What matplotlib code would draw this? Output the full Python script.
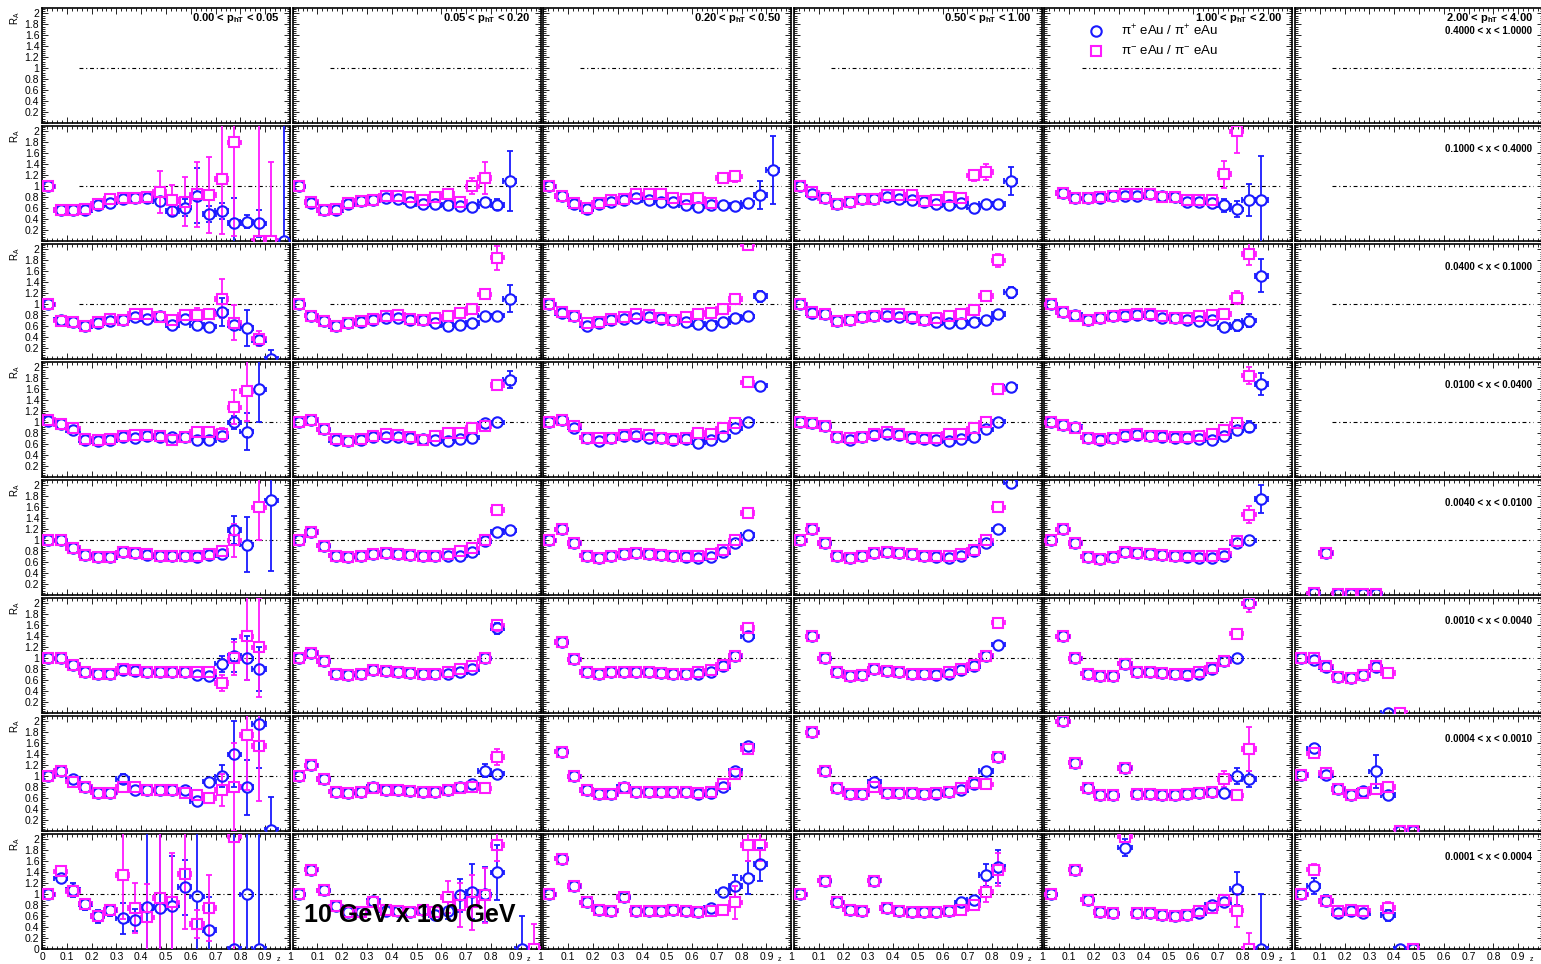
import matplotlib
matplotlib.use('Agg')
import matplotlib.pyplot as plt
from matplotlib.collections import LineCollection
from matplotlib.ticker import MultipleLocator

plt.rcParams['font.family'] = ['Liberation Sans', 'DejaVu Sans']
plt.rcParams['mathtext.fontset'] = 'custom'
plt.rcParams['mathtext.rm'] = 'Liberation Sans'
plt.rcParams['mathtext.it'] = 'Liberation Sans:italic'
plt.rcParams['mathtext.bf'] = 'Liberation Sans:bold'

# z bin centres
z = [0.025, 0.075, 0.125, 0.175, 0.225, 0.275, 0.325, 0.375, 0.425, 0.475,
     0.525, 0.575, 0.625, 0.675, 0.725, 0.775, 0.825, 0.875, 0.925, 0.975]

pt_labels = ['0.00 < p$_{\\mathbf{hT}}$ < 0.05', '0.05 < p$_{\\mathbf{hT}}$ < 0.20',
             '0.20 < p$_{\\mathbf{hT}}$ < 0.50', '0.50 < p$_{\\mathbf{hT}}$ < 1.00',
             '1.00 < p$_{\\mathbf{hT}}$ < 2.00', '2.00 < p$_{\\mathbf{hT}}$ < 4.00']
x_labels = ['0.4000 < x < 1.0000', '0.1000 < x < 0.4000', '0.0400 < x < 0.1000',
            '0.0100 < x < 0.0400', '0.0040 < x < 0.0100', '0.0010 < x < 0.0040',
            '0.0004 < x < 0.0010', '0.0001 < x < 0.0004']

# R_A per pT column, one list per x bin; None = empty bin
# errors: {bin index: error}, bins not listed get a small error
pip_r1 = [[], [], [], [], [], []]
pim_r1 = [[], [], [], [], [], []]
pip_err_r1 = [{}, {}, {}, {}, {}, {}]
pim_err_r1 = [{}, {}, {}, {}, {}, {}]

pip_r2 = [
    [1.0, 0.57, 0.57, 0.57, 0.65, 0.70, 0.77, 0.79, 0.79, 0.73, 0.55, 0.61, 0.83, 0.49, 0.55, 0.33, 0.35, 0.32, None, 0.0],
    [1.0, 0.70, 0.57, 0.57, 0.68, 0.73, 0.75, 0.79, 0.77, 0.71, 0.68, 0.67, 0.66, 0.64, 0.63, 0.71, 0.66, 1.10],
    [1.0, 0.82, 0.68, 0.58, 0.67, 0.72, 0.74, 0.78, 0.75, 0.71, 0.71, 0.65, 0.63, 0.66, 0.66, 0.64, 0.70, 0.84, 1.30],
    [1.0, 0.86, 0.79, 0.68, 0.71, 0.77, 0.77, 0.80, 0.77, 0.75, 0.72, 0.68, 0.66, 0.69, 0.61, 0.68, 0.68, 1.10],
    [None, 0.88, 0.78, 0.78, 0.78, 0.82, 0.83, 0.82, 0.85, 0.82, 0.80, 0.72, 0.72, 0.70, 0.65, 0.58, 0.75, 0.75],
    [],
]
pim_r2 = [
    [1.0, 0.57, 0.57, 0.58, 0.68, 0.77, 0.78, 0.79, 0.81, 0.90, 0.75, 0.72, 0.85, 0.84, 1.13, 1.80, None, 0.0, 0.0],
    [1.0, 0.71, 0.57, 0.58, 0.69, 0.73, 0.74, 0.82, 0.83, 0.80, 0.74, 0.80, 0.86, 0.71, 1.0, 1.15],
    [1.0, 0.82, 0.69, 0.61, 0.69, 0.75, 0.77, 0.85, 0.85, 0.85, 0.78, 0.77, 0.78, 0.69, 1.15, 1.18],
    [1.0, 0.89, 0.78, 0.68, 0.72, 0.77, 0.77, 0.84, 0.84, 0.84, 0.73, 0.75, 0.81, 0.78, 1.20, 1.26],
    [None, 0.88, 0.78, 0.78, 0.80, 0.82, 0.85, 0.85, 0.85, 0.80, 0.80, 0.75, 0.75, 0.75, 1.22, 2.0],
    [],
]
pip_err_r2 = [
    {10: 0.1, 11: 0.15, 12: 0.5, 13: 0.15, 14: 0.15, 15: 0.45, 16: 0.12, 17: 0.25, 19: 2.5},
    {16: 0.1, 17: 0.55},
    {17: 0.25, 18: 0.62},
    {17: 0.26},
    {14: 0.12, 15: 0.15, 16: 0.3, 17: 0.8},
    {},
]
pim_err_r2 = [
    {9: 0.38, 10: 0.28, 11: 0.45, 12: 0.6, 13: 0.7, 14: 1.0, 15: 1.7, 17: 2.5, 18: 1.45},
    {14: 0.15, 15: 0.3},
    {14: 0.08, 15: 0.1},
    {14: 0.1, 15: 0.15},
    {14: 0.25, 15: 0.4},
    {},
]

pip_r3 = [
    [1.0, 0.72, 0.67, 0.60, 0.65, 0.70, 0.71, 0.77, 0.73, 0.78, 0.62, 0.73, 0.62, 0.59, 0.86, 0.62, 0.57, 0.35, 0.0],
    [1.0, 0.79, 0.70, 0.60, 0.65, 0.68, 0.72, 0.75, 0.75, 0.72, 0.71, 0.66, 0.61, 0.63, 0.66, 0.79, 0.79, 1.10],
    [1.0, 0.84, 0.78, 0.61, 0.66, 0.72, 0.73, 0.75, 0.77, 0.73, 0.71, 0.67, 0.64, 0.63, 0.67, 0.74, 0.78, 1.15],
    [1.0, 0.84, 0.83, 0.70, 0.71, 0.76, 0.78, 0.78, 0.76, 0.75, 0.72, 0.68, 0.66, 0.66, 0.68, 0.72, 0.82, 1.22],
    [1.0, 0.85, 0.80, 0.72, 0.75, 0.78, 0.78, 0.80, 0.80, 0.75, 0.75, 0.72, 0.70, 0.72, 0.58, 0.62, 0.70, 1.52],
    [],
]
pim_r3 = [
    [1.0, 0.70, 0.67, 0.61, 0.68, 0.73, 0.72, 0.82, 0.82, 0.77, 0.72, 0.81, 0.81, 0.82, 1.10, 0.66, None, 0.37],
    [1.0, 0.79, 0.70, 0.61, 0.66, 0.70, 0.73, 0.78, 0.81, 0.73, 0.72, 0.74, 0.78, 0.84, 0.91, 1.18, 1.85],
    [1.0, 0.85, 0.79, 0.65, 0.68, 0.73, 0.76, 0.83, 0.80, 0.75, 0.71, 0.77, 0.82, 0.84, 0.91, 1.10, 2.09],
    [1.0, 0.85, 0.83, 0.70, 0.72, 0.77, 0.79, 0.83, 0.83, 0.77, 0.72, 0.75, 0.79, 0.83, 0.90, 1.15, 1.80],
    [1.0, 0.85, 0.78, 0.72, 0.75, 0.78, 0.80, 0.82, 0.82, 0.78, 0.75, 0.75, 0.78, 0.80, 0.82, 1.12, 1.92],
    [],
]
pip_err_r3 = [
    {12: 0.06, 14: 0.26, 16: 0.33, 17: 0.06, 18: 0.16},
    {17: 0.25},
    {17: 0.1},
    {17: 0.1},
    {15: 0.1, 16: 0.12, 17: 0.3},
    {},
]
pim_err_r3 = [
    {12: 0.12, 14: 0.36, 15: 0.32, 17: 0.14},
    {15: 0.07, 16: 0.22},
    {16: 0.1},
    {16: 0.12},
    {15: 0.12, 16: 0.2},
    {},
]

pip_r4 = [
    [1.02, 0.96, 0.85, 0.68, 0.65, 0.68, 0.73, 0.71, 0.75, 0.73, 0.73, 0.73, 0.67, 0.68, 0.74, 1.0, 0.83, 1.60],
    [1.01, 1.04, 0.87, 0.68, 0.65, 0.68, 0.73, 0.73, 0.73, 0.72, 0.69, 0.68, 0.66, 0.70, 0.72, 0.98, 1.0, 1.78],
    [1.01, 1.05, 0.90, 0.72, 0.66, 0.71, 0.74, 0.74, 0.72, 0.71, 0.68, 0.69, 0.63, 0.68, 0.74, 0.89, 1.01, 1.67],
    [1.01, 0.99, 0.93, 0.73, 0.67, 0.73, 0.77, 0.79, 0.77, 0.72, 0.70, 0.67, 0.66, 0.70, 0.73, 0.87, 1.01, 1.65],
    [1.0, 0.95, 0.92, 0.72, 0.68, 0.72, 0.75, 0.77, 0.75, 0.73, 0.72, 0.72, 0.70, 0.68, 0.75, 0.85, 0.92, 1.70],
    [],
]
pim_r4 = [
    [1.04, 0.96, 0.89, 0.70, 0.68, 0.70, 0.75, 0.77, 0.76, 0.74, 0.68, 0.73, 0.82, 0.82, 0.79, 1.27, 1.57],
    [1.01, 1.04, 0.87, 0.70, 0.66, 0.70, 0.74, 0.78, 0.77, 0.73, 0.68, 0.74, 0.80, 0.80, 0.90, 0.93, 1.68],
    [1.01, 1.05, 0.93, 0.72, 0.71, 0.72, 0.77, 0.79, 0.77, 0.72, 0.70, 0.72, 0.80, 0.78, 0.89, 0.99, 1.73],
    [1.01, 0.99, 0.93, 0.73, 0.71, 0.73, 0.79, 0.82, 0.79, 0.73, 0.72, 0.71, 0.79, 0.79, 0.89, 1.0, 1.61],
    [1.0, 0.95, 0.90, 0.72, 0.70, 0.72, 0.77, 0.78, 0.75, 0.75, 0.73, 0.73, 0.75, 0.78, 0.85, 0.98, 1.85],
    [],
]
pip_err_r4 = [
    {14: 0.05, 15: 0.12, 16: 0.33, 17: 0.6},
    {17: 0.15},
    {},
    {},
    {16: 0.1, 17: 0.2},
    {},
]
pim_err_r4 = [
    {14: 0.1, 15: 0.31, 16: 0.55},
    {16: 0.08},
    {},
    {},
    {16: 0.15},
    {},
]

pip_r5 = [
    [1.0, 1.0, 0.86, 0.73, 0.69, 0.69, 0.78, 0.77, 0.73, 0.71, 0.71, 0.71, 0.69, 0.73, 0.75, 1.19, 0.92, None, 1.73],
    [1.0, 1.15, 0.90, 0.72, 0.70, 0.72, 0.75, 0.76, 0.75, 0.73, 0.72, 0.72, 0.72, 0.72, 0.78, 0.98, 1.15, 1.18],
    [1.0, 1.20, 0.95, 0.72, 0.68, 0.72, 0.75, 0.76, 0.75, 0.73, 0.71, 0.70, 0.68, 0.70, 0.78, 0.95, 1.10],
    [1.0, 1.20, 0.95, 0.72, 0.68, 0.72, 0.77, 0.78, 0.77, 0.75, 0.72, 0.70, 0.68, 0.72, 0.80, 0.95, 1.20, 2.05],
    [1.0, 1.20, 0.95, 0.70, 0.65, 0.70, 0.78, 0.76, 0.75, 0.73, 0.72, 0.70, 0.68, 0.68, 0.72, 0.95, 1.0, 1.75],
    [None, 0.03, 0.77, 0.02, 0.02, 0.02, 0.02],
]
pim_r5 = [
    [1.0, 1.0, 0.86, 0.73, 0.69, 0.70, 0.78, 0.77, 0.74, 0.72, 0.72, 0.72, 0.72, 0.75, 0.80, 1.0, None, 1.6],
    [1.0, 1.15, 0.90, 0.72, 0.70, 0.72, 0.75, 0.77, 0.75, 0.73, 0.72, 0.72, 0.75, 0.80, 0.85, 1.0, 1.55],
    [1.0, 1.20, 0.95, 0.72, 0.68, 0.72, 0.75, 0.77, 0.75, 0.73, 0.72, 0.72, 0.72, 0.75, 0.82, 1.0, 1.50],
    [1.0, 1.20, 0.95, 0.72, 0.68, 0.72, 0.77, 0.78, 0.77, 0.75, 0.72, 0.72, 0.72, 0.75, 0.82, 1.0, 1.6],
    [1.0, 1.20, 0.95, 0.70, 0.65, 0.70, 0.78, 0.76, 0.75, 0.73, 0.72, 0.72, 0.72, 0.72, 0.75, 0.98, 1.47],
    [None, 0.03, 0.77, 0.02, 0.02, 0.02, 0.02],
]
pip_err_r5 = [{15: 0.25, 16: 0.5, 18: 1.3}, {16: 0.08}, {}, {}, {17: 0.25}, {}]
pim_err_r5 = [{15: 0.3, 17: 0.6}, {16: 0.08}, {}, {}, {16: 0.15}, {}]

pip_r6 = [
    [1.0, 1.0, 0.88, 0.75, 0.72, 0.72, 0.78, 0.77, 0.75, 0.75, 0.75, 0.75, 0.70, 0.68, 0.90, 1.05, 1.0, 0.80],
    [1.0, 1.10, 0.95, 0.72, 0.70, 0.72, 0.78, 0.76, 0.75, 0.73, 0.72, 0.72, 0.72, 0.75, 0.80, 1.0, 1.55],
    [None, 1.30, 0.98, 0.75, 0.72, 0.75, 0.75, 0.75, 0.74, 0.73, 0.72, 0.72, 0.72, 0.75, 0.85, 1.05, 1.40],
    [None, 1.40, 1.0, 0.75, 0.68, 0.70, 0.80, 0.77, 0.75, 0.72, 0.72, 0.70, 0.72, 0.78, 0.85, 1.05, 1.25],
    [None, 1.40, 1.0, 0.72, 0.68, 0.68, 0.90, 0.75, 0.75, 0.73, 0.72, 0.70, 0.72, 0.80, 0.95, 1.0, 2.0],
    [1.0, 0.97, 0.84, 0.66, 0.64, 0.69, 0.84, 0.0],
]
pim_r6 = [
    [1.0, 1.0, 0.88, 0.75, 0.72, 0.72, 0.80, 0.78, 0.75, 0.75, 0.75, 0.75, 0.75, 0.75, 0.55, 1.0, 1.40, 1.20],
    [1.0, 1.10, 0.95, 0.72, 0.70, 0.72, 0.78, 0.76, 0.75, 0.73, 0.72, 0.72, 0.75, 0.80, 0.85, 1.0, 1.60],
    [None, 1.30, 0.98, 0.75, 0.72, 0.75, 0.75, 0.75, 0.74, 0.73, 0.72, 0.72, 0.75, 0.78, 0.88, 1.05, 1.55],
    [None, 1.40, 1.0, 0.75, 0.68, 0.70, 0.80, 0.77, 0.75, 0.72, 0.72, 0.72, 0.75, 0.80, 0.88, 1.05, 1.65],
    [None, 1.40, 1.0, 0.72, 0.68, 0.68, 0.90, 0.75, 0.75, 0.73, 0.72, 0.72, 0.75, 0.82, 0.95, 1.45, 2.0],
    [1.0, 1.0, 0.85, 0.66, 0.64, 0.69, 0.85, 0.73, 0.0],
]
pip_err_r6 = [{14: 0.15, 15: 0.3, 16: 0.4, 17: 0.4}, {16: 0.1}, {}, {}, {17: 0.2}, {}]
pim_err_r6 = [{14: 0.15, 15: 0.3, 16: 0.8, 17: 0.9}, {16: 0.1}, {}, {}, {16: 0.15}, {}]

pip_r7 = [
    [1.0, 1.10, 0.95, 0.80, 0.70, 0.70, 0.95, 0.75, 0.75, 0.75, 0.75, 0.75, 0.55, 0.90, 1.0, 1.40, 0.80, 1.95, 0.02],
    [1.0, 1.20, 0.95, 0.72, 0.70, 0.72, 0.80, 0.75, 0.75, 0.73, 0.72, 0.72, 0.75, 0.80, 0.85, 1.10, 1.05],
    [None, 1.45, 1.0, 0.75, 0.68, 0.68, 0.80, 0.72, 0.72, 0.72, 0.72, 0.72, 0.68, 0.70, 0.80, 1.10, 1.55],
    [None, 1.80, 1.10, 0.78, 0.68, 0.68, 0.90, 0.70, 0.70, 0.70, 0.68, 0.68, 0.72, 0.75, 0.85, 1.10, 1.35],
    [None, 2.0, 1.25, 0.78, 0.65, 0.65, 1.15, 0.68, 0.68, 0.65, 0.65, 0.68, 0.70, 0.72, 0.70, 1.0, 0.95],
    [1.02, 1.51, 1.02, 0.77, 0.66, 0.73, 1.09, 0.66, 0.0, 0.0],
]
pim_r7 = [
    [1.0, 1.10, 0.90, 0.80, 0.70, 0.70, 0.80, 0.80, 0.75, 0.75, 0.75, 0.70, 0.65, 0.60, 0.75, 0.80, 1.75, 1.55],
    [1.0, 1.20, 0.95, 0.72, 0.70, 0.72, 0.78, 0.75, 0.75, 0.73, 0.72, 0.72, 0.75, 0.78, 0.80, 0.78, 1.35],
    [None, 1.45, 1.0, 0.75, 0.68, 0.68, 0.78, 0.72, 0.72, 0.72, 0.72, 0.72, 0.70, 0.72, 0.85, 1.05, 1.50],
    [None, 1.80, 1.10, 0.78, 0.68, 0.68, 0.80, 0.70, 0.70, 0.70, 0.68, 0.70, 0.72, 0.78, 0.88, 0.85, 1.35],
    [None, 2.0, 1.25, 0.78, 0.65, 0.65, 1.15, 0.68, 0.68, 0.65, 0.65, 0.68, 0.70, 0.72, 0.95, 0.65, 1.50],
    [1.02, 1.42, 1.06, 0.77, 0.66, 0.69, 0.77, 0.80, 0.0, 0.0],
]
pip_err_r7 = [{6: 0.1, 14: 0.2, 15: 0.6, 16: 0.5, 17: 0.8, 18: 0.6}, {15: 0.12}, {}, {}, {15: 0.15, 16: 0.15}, {1: 0.08, 6: 0.3}]
pim_err_r7 = [{14: 0.3, 15: 0.8, 16: 1.0, 17: 1.0}, {16: 0.15}, {}, {}, {14: 0.15, 16: 0.4}, {}]

pip_r8 = [
    [1.0, 1.29, 1.08, 0.82, 0.60, 0.71, 0.56, 0.53, 0.77, 0.75, 0.79, 1.13, 0.96, 0.35, None, 0.0, 1.0, 0.0],
    [1.0, 1.45, 1.07, 0.78, 0.68, 0.68, 0.88, 0.70, 0.70, 0.68, 0.72, 0.62, 0.70, 0.98, 1.05, 1.0, 1.40, None, 0.0],
    [1.0, 1.65, 1.15, 0.85, 0.72, 0.70, 0.95, 0.70, 0.70, 0.70, 0.72, 0.70, 0.68, 0.75, 1.05, 1.15, 1.30, 1.55],
    [1.0, None, 1.25, 0.85, 0.72, 0.70, 1.25, 0.75, 0.70, 0.68, 0.68, 0.68, 0.70, 0.85, 0.90, 1.35, 1.50],
    [1.0, None, 1.45, 0.90, 0.68, 0.65, 1.85, 0.65, 0.65, 0.62, 0.60, 0.62, 0.65, 0.80, 0.85, 1.10, None, 0.0],
    [1.0, 1.15, 0.88, 0.65, 0.70, 0.65, None, 0.62, 0.0, 0.0],
]
pim_r8 = [
    [1.0, 1.42, 1.06, 0.83, 0.60, 0.71, 1.35, 0.75, 0.58, 0.93, 0.85, 1.37, 0.46, 0.75, None, 2.05],
    [1.0, 1.45, 1.07, 0.78, 0.68, 0.68, 0.85, 0.72, 0.70, 0.68, 0.72, 0.68, 0.95, 0.80, 0.85, 0.98, 1.90, None, None, 0.0],
    [1.0, 1.65, 1.15, 0.85, 0.72, 0.70, 0.95, 0.70, 0.70, 0.70, 0.72, 0.70, 0.68, 0.70, 0.72, 0.85, 1.90, 1.90],
    [1.0, None, 1.25, 0.85, 0.72, 0.70, 1.25, 0.75, 0.70, 0.68, 0.68, 0.68, 0.70, 0.72, 0.80, 1.05, 1.45],
    [1.0, None, 1.45, 0.90, 0.68, 0.65, 2.05, 0.65, 0.65, 0.62, 0.60, 0.62, 0.70, 0.75, 0.90, 0.70, 0.0],
    [1.0, 1.45, 0.88, 0.70, 0.72, 0.70, None, 0.75, None, 0.0],
]
pip_err_r8 = [
    {2: 0.13, 3: 0.1, 4: 0.12, 5: 0.1, 6: 0.28, 7: 0.2, 8: 1.5, 9: 1.5, 10: 0.9, 11: 0.5, 12: 1.5, 13: 0.6, 15: 2.5, 16: 1.5, 17: 2.5},
    {12: 0.15, 13: 0.3, 14: 0.5, 15: 0.5, 16: 0.5, 18: 0.6},
    {15: 0.2, 16: 0.3, 17: 0.3},
    {15: 0.2, 16: 0.3},
    {6: 0.15, 15: 0.3, 17: 1.0},
    {1: 0.15, 2: 0.1, 4: 0.1, 7: 0.1},
]
pim_err_r8 = [
    {6: 0.8, 7: 0.45, 8: 0.6, 9: 1.2, 10: 0.9, 11: 1.0, 12: 0.25, 13: 0.6, 15: 2.5},
    {12: 0.3, 13: 0.4, 14: 0.5, 15: 0.5, 16: 0.3, 19: 0.45},
    {15: 0.3, 16: 0.3, 17: 0.3},
    {15: 0.2, 16: 0.3},
    {15: 0.3, 16: 0.3},
    {1: 0.1, 7: 0.1},
]

pip_rows = [pip_r1, pip_r2, pip_r3, pip_r4, pip_r5, pip_r6, pip_r7, pip_r8]
pim_rows = [pim_r1, pim_r2, pim_r3, pim_r4, pim_r5, pim_r6, pim_r7, pim_r8]
pip_err_rows = [pip_err_r1, pip_err_r2, pip_err_r3, pip_err_r4, pip_err_r5, pip_err_r6, pip_err_r7, pip_err_r8]
pim_err_rows = [pim_err_r1, pim_err_r2, pim_err_r3, pim_err_r4, pim_err_r5, pim_err_r6, pim_err_r7, pim_err_r8]

BLUE = '#1a1aff'
MAGENTA = '#ff1aff'
YMAX = 2.1

W, H = 1541, 964
fig = plt.figure(figsize=(W / 100, H / 100), dpi=100)

# marker half-size in data units (z, R_A), used to keep error bars outside markers
RZ, RY = 0.02, 0.09


def draw_series(ax, vals, errs, color, marker, ms):
    segs = []
    for i, v in enumerate(vals):
        if v is None:
            continue
        x = z[i]
        e = errs.get(i, 0.03)
        # horizontal bin bars with end ticks
        segs += [[(x - 0.027, v), (x - RZ, v)], [(x + RZ, v), (x + 0.027, v)],
                 [(x - 0.027, v - 0.05), (x - 0.027, v + 0.05)],
                 [(x + 0.027, v - 0.05), (x + 0.027, v + 0.05)]]
        if e > RY:
            segs += [[(x, v + RY), (x, v + e)], [(x, v - RY), (x, v - e)],
                     [(x - 0.012, v + e), (x + 0.012, v + e)],
                     [(x - 0.012, v - e), (x + 0.012, v - e)]]
    ax.add_collection(LineCollection(segs, colors=color, linewidths=1.3, zorder=3))
    xs = [z[i] for i, v in enumerate(vals) if v is not None and v <= YMAX]
    ys = [v for v in vals if v is not None and v <= YMAX]
    ax.plot(xs, ys, ls='none', marker=marker, ms=ms, mfc='none', mec=color, mew=1.5, zorder=4)


for r in range(8):
    top = 8 + 118 * r
    fig.text(15 / W, 1 - (top + 3) / H, 'R$_{\\mathrm{A}}$', rotation=90, ha='center', va='top', fontsize=7)
    for c in range(6):
        left = 42 + 250.6 * c
        ax = fig.add_axes([left / W, 1 - (top + 115) / H, 248 / W, 115 / H])
        ax.set_xlim(0, 1)
        ax.set_ylim(0, YMAX)
        for s in ax.spines.values():
            s.set_linewidth(1.2)
        ax.xaxis.set_major_locator(MultipleLocator(0.1))
        ax.xaxis.set_minor_locator(MultipleLocator(0.02))
        ax.yaxis.set_major_locator(MultipleLocator(0.2))
        ax.yaxis.set_minor_locator(MultipleLocator(0.04))
        ax.tick_params(which='both', direction='in', top=True, right=True, width=0.6, labelsize=7.5, pad=2)
        ax.tick_params(which='major', length=4.5)
        ax.tick_params(which='minor', length=2.2)

        if c == 0:
            ylabs = ['0' if (k == 0 and r == 7) else ('' if k == 0 else f'{k * 0.2:.1f}'.rstrip('0').rstrip('.'))
                     for k in range(11)]
            ax.set_yticks([k * 0.2 for k in range(11)])
            ax.set_yticklabels(ylabs)
        else:
            ax.set_yticklabels([])
        if r == 7:
            ax.set_xticks([k * 0.1 for k in range(11)])
            xlabs = [f'{k * 0.1:.1f}' for k in range(11)]
            xlabs[0] = '0' if c == 0 else ''
            xlabs[10] = '1' if c < 5 else ''
            ax.set_xticklabels(xlabs)
            ax.text(0.952, -0.065, 'z', transform=ax.transAxes, fontsize=5, ha='center', va='top')
        else:
            ax.set_xticklabels([])

        # reference line at R_A = 1
        ax.plot([0.15, 0.96], [1, 1], color='black', lw=0.8, ls=(0, (3.5, 2.5, 1, 2.5)), zorder=2)

        draw_series(ax, pip_rows[r][c], pip_err_rows[r][c], BLUE, 'o', 7.5)
        draw_series(ax, pim_rows[r][c], pim_err_rows[r][c], MAGENTA, 's', 7)

        if r == 0:
            ax.text(0.958, 0.975, pt_labels[c], transform=ax.transAxes, ha='right', va='top',
                    fontsize=8, fontweight='bold')
        if c == 5:
            ax.text(0.955, 0.84, x_labels[r], transform=ax.transAxes, ha='right', va='top',
                    fontsize=7, fontweight='bold')
        if r == 0 and c == 4:
            ax.plot([0.21], [0.80], transform=ax.transAxes, marker='o', ms=7.5, mfc='none', mec=BLUE, mew=1.5, ls='none')
            ax.plot([0.21], [0.63], transform=ax.transAxes, marker='s', ms=7, mfc='none', mec=MAGENTA, mew=1.5, ls='none')
            ax.text(0.31, 0.80, 'π$^{+}$ eAu / π$^{+}$ eAu', transform=ax.transAxes, va='center', fontsize=9.5)
            ax.text(0.31, 0.63, 'π$^{-}$ eAu / π$^{-}$ eAu', transform=ax.transAxes, va='center', fontsize=9.5)

fig.text(410 / W, 1 - 915 / H, '10 GeV x 100 GeV', ha='center', va='center', fontsize=18, fontweight='bold')

fig.savefig('out.png', dpi=100)
